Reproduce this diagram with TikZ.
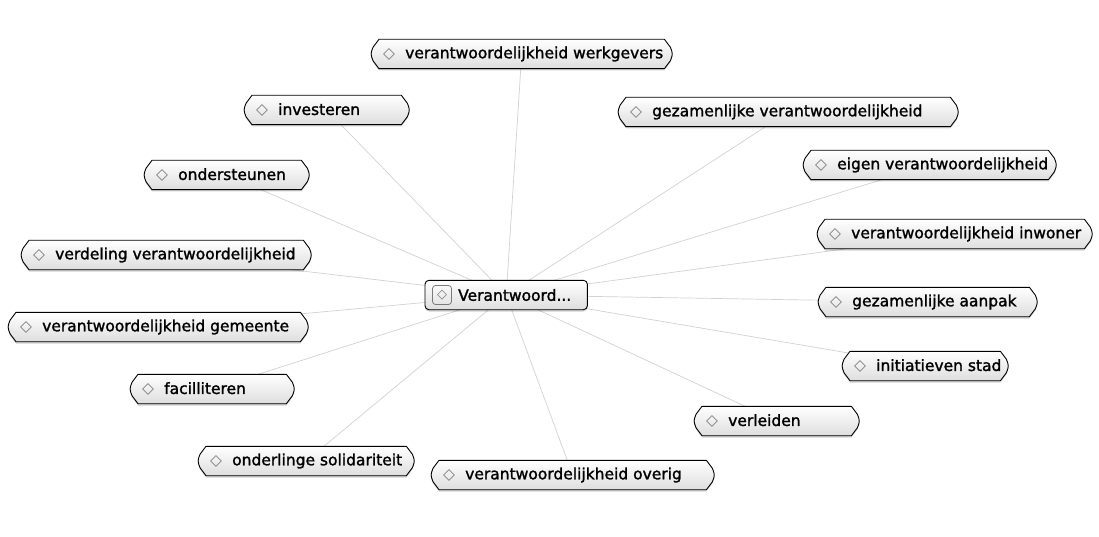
\documentclass[tikz,border=0pt]{standalone}
\usepackage{fontspec}
\setmainfont{DejaVu Sans}
\newfontfamily\lblfont{DejaVu Sans}[FakeBold=1.5]
\usetikzlibrary{calc}
\pgfdeclarelayer{edges}\pgfdeclarelayer{shapes}
\pgfsetlayers{edges,shapes,main}
\definecolor{edgegray}{HTML}{D2D2D2}
\definecolor{diagray}{HTML}{7A7A7A}
\definecolor{fillbot}{HTML}{DEDEDE}
\tikzset{
 tagn/.style={minimum height=29pt, inner xsep=11pt, inner ysep=0pt, anchor=west,
   font=\lblfont\fontsize{15.5}{18}\selectfont},
 tagshape/.style={draw=black, line width=0.9pt, top color=white, bottom color=fillbot, line join=round},
 shadowshape/.style={fill=black, fill opacity=0.18, draw=none},
 cshape/.style={draw=black, line width=0.9pt, top color=white, bottom color=fillbot, rounded corners=4pt},
 iconbox/.style={draw=diagray, line width=0.8pt, rounded corners=3pt, minimum width=19pt, minimum height=19pt, inner sep=0pt,
   font=\fontsize{13}{13}\selectfont, text=diagray},
 link/.style={draw=edgegray, line width=0.7pt},
}
\newcommand\dia{\makebox[22pt][l]{\textcolor{diagray}{\normalfont\fontsize{15.5}{18}\selectfont◇}}}
\newcommand\tagpath[2]{% node name, vertical offset
 ($(#1.north west)+(7,#2)$) -- ($(#1.north east)+(-7,#2)$) -- ($(#1.north east)+(-1,8+#2)$)
   .. controls ($(#1.east)+(1.5,#2)$) .. ($(#1.south east)+(-1,-8+#2)$) -- ($(#1.south east)+(-7,#2)$)
   -- ($(#1.south west)+(7,#2)$) -- ($(#1.south west)+(1,-8+#2)$)
   .. controls ($(#1.west)+(-1.5,#2)$) .. ($(#1.north west)+(1,8+#2)$) -- cycle}
\newcommand\tg[5]{%
 \pgfmathsetmacro\tw{#4-22}%
 \node[tagn] (#1) at (#2,#3) {\makebox[\tw pt][l]{\dia#5}};
 \begin{pgfonlayer}{shapes}
 \path[shadowshape] \tagpath{#1}{1.8};
 \path[tagshape] \tagpath{#1}{0};
 \end{pgfonlayer}}
\begin{document}
\begin{tikzpicture}[x=1pt,y=-1pt]
\begin{pgfonlayer}{edges}
\fill[white] (0,0) rectangle (1099,537);
\end{pgfonlayer}
\useasboundingbox (0,0) rectangle (1099,537);
% centre
\node[tagn, inner xsep=7pt] (c) at (425,295) {\makebox[148pt][l]{\hspace{26pt}Verantwoord...}};
\node[iconbox] (ci) at (442,295) {◇};
\begin{pgfonlayer}{shapes}
\path[shadowshape, rounded corners=4pt] ($(c.north west)+(0,1.8)$) rectangle ($(c.south east)+(0,1.8)$);
\path[cshape] (c.north west) rectangle (c.south east);
\end{pgfonlayer}
% satellites
\tg{n1}{372}{54}{299}{verantwoordelijkheid werkgevers}
\tg{n2}{245}{110}{163}{investeren}
\tg{n3}{619}{112}{338}{gezamenlijke verantwoordelijkheid}
\tg{n4}{804}{165}{251}{eigen verantwoordelijkheid}
\tg{n5}{145}{175}{163}{ondersteunen}
\tg{n6}{818}{234}{273}{verantwoordelijkheid inwoner}
\tg{n7}{22}{255}{288}{verdeling verantwoordelijkheid}
\tg{n8}{819}{302}{217}{gezamenlijke aanpak}
\tg{n9}{9}{327}{298}{verantwoordelijkheid gemeente}
\tg{n10}{843}{366}{164}{initiatieven stad}
\tg{n11}{131}{389}{162}{facilliteren}
\tg{n12}{695}{421}{163}{verleiden}
\tg{n13}{199}{461}{214}{onderlinge solidariteit}
\tg{n14}{432}{475}{281}{verantwoordelijkheid overig}
\begin{pgfonlayer}{edges}
\foreach \n in {n1,n2,n3,n4,n5,n6,n7,n8,n9,n10,n11,n12,n13,n14}
  \draw[link] (c.center) -- (\n.center);
\end{pgfonlayer}
\end{tikzpicture}
\end{document}
